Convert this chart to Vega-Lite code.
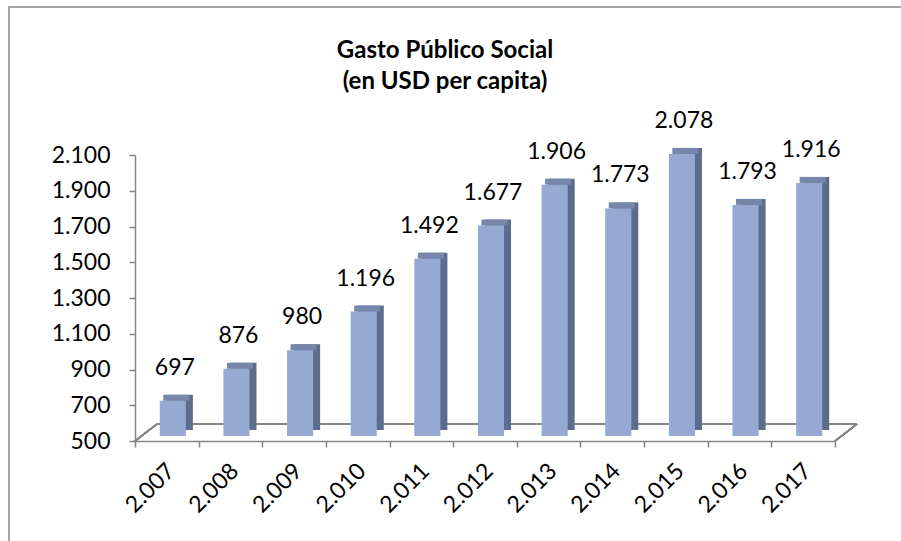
{
  "$schema": "https://vega.github.io/schema/vega-lite/v6.json",
  "autosize": "none",
  "width": 892,
  "height": 534,
  "padding": {"left": 9, "top": 7, "right": 0, "bottom": 0},
  "background": "white",
  "config": {
    "locale": {"number": {"decimal": ",", "thousands": ".", "grouping": [3], "currency": ["", ""]}},
    "view": {"stroke": "#868686", "strokeWidth": 1.5, "strokeDash": [892, 1426, 534]},
    "axis": {
      "domainColor": "#868686",
      "tickColor": "#868686",
      "domainWidth": 1.5,
      "tickWidth": 1.5,
      "tickSize": 6,
      "grid": false,
      "labelFont": "Lato",
      "labelFontSize": 23,
      "labelColor": "#000000",
      "title": null
    },
    "text": {"font": "Lato", "fontSize": 23, "color": "#000000"}
  },
  "title": {
    "text": ["Gasto Público Social", "(en USD per capita)"],
    "font": "Lato",
    "fontSize": 24,
    "fontWeight": "bold",
    "color": "#000000",
    "lineHeight": 31,
    "anchor": "middle",
    "frame": "group",
    "dx": -10,
    "offset": -87
  },
  "data": {
    "values": [
      {"year": "2.007", "value": 697},
      {"year": "2.008", "value": 876},
      {"year": "2.009", "value": 980},
      {"year": "2.010", "value": 1196},
      {"year": "2.011", "value": 1492},
      {"year": "2.012", "value": 1677},
      {"year": "2.013", "value": 1906},
      {"year": "2.014", "value": 1773},
      {"year": "2.015", "value": 2078},
      {"year": "2.016", "value": 1793},
      {"year": "2.017", "value": 1916}
    ]
  },
  "resolve": {"scale": {"x": "independent"}, "axis": {"x": "independent"}},
  "layer": [
    {
      "layer": [
        {
          "mark": {"type": "rule", "color": "#868686", "strokeWidth": 1.5, "xOffset": 22, "x2Offset": 22, "yOffset": -17},
          "encoding": {
            "x": {"datum": 0, "type": "quantitative", "axis": null, "scale": {"domain": [0, 1], "range": [126, 826]}},
            "x2": {"datum": 1},
            "y": {"datum": 500, "type": "quantitative", "scale": {"domain": [500, 2100], "range": [434, 148], "nice": false, "zero": false}}
          }
        },
        {
          "mark": {"type": "rule", "color": "#868686", "strokeWidth": 1.5, "x2Offset": 22, "y2Offset": -17},
          "encoding": {
            "x": {"datum": 0, "type": "quantitative", "axis": null, "scale": {"domain": [0, 1], "range": [126, 826]}},
            "x2": {"datum": 0},
            "y": {"datum": 500, "type": "quantitative"},
            "y2": {"datum": 500}
          }
        },
        {
          "mark": {"type": "rule", "color": "#868686", "strokeWidth": 1.5, "x2Offset": 22, "y2Offset": -17},
          "encoding": {
            "x": {"datum": 1, "type": "quantitative", "axis": null, "scale": {"domain": [0, 1], "range": [126, 826]}},
            "x2": {"datum": 1},
            "y": {"datum": 500, "type": "quantitative"},
            "y2": {"datum": 500}
          }
        }
      ]
    },
    {
      "encoding": {
        "x": {
          "field": "year",
          "type": "nominal",
          "sort": null,
          "scale": {"type": "band", "paddingInner": 0, "paddingOuter": 0, "range": [126, 826]},
          "axis": {
            "orient": "bottom",
            "offset": -100,
            "tickBand": "extent",
            "labelAngle": -45,
            "labelAlign": "right",
            "labelBaseline": "middle",
            "labelPadding": 20,
            "labelOffset": 4
          }
        }
      },
      "layer": [
        {
          "mark": {"type": "bar", "color": "#5D6C8B", "width": {"band": 0.41}, "xOffset": 13, "yOffset": -11, "y2Offset": -11},
          "encoding": {
            "y": {
              "field": "value",
              "type": "quantitative",
              "scale": {"domain": [500, 2100], "range": [434, 148], "nice": false, "zero": false},
              "axis": {
                "orient": "left",
                "offset": -126,
                "values": [500, 700, 900, 1100, 1300, 1500, 1700, 1900, 2100],
                "format": ",d",
                "labelPadding": 19
              }
            },
            "y2": {"datum": 500}
          }
        },
        {
          "mark": {"type": "bar", "color": "#7787A9", "width": {"band": 0.41}, "xOffset": 9.5, "yOffset": -11, "y2Offset": -5},
          "encoding": {
            "y": {"field": "value", "type": "quantitative"},
            "y2": {"field": "value"}
          }
        },
        {
          "mark": {"type": "bar", "color": "#95A9D2", "width": {"band": 0.41}, "xOffset": 6, "yOffset": -5, "y2Offset": -5},
          "encoding": {
            "y": {"field": "value", "type": "quantitative"},
            "y2": {"datum": 500}
          }
        },
        {
          "mark": {"type": "text", "baseline": "middle", "align": "center", "xOffset": 8, "yOffset": -38},
          "encoding": {
            "y": {"field": "value", "type": "quantitative"},
            "text": {"field": "value", "type": "quantitative", "format": ",d"}
          }
        }
      ]
    }
  ]
}
